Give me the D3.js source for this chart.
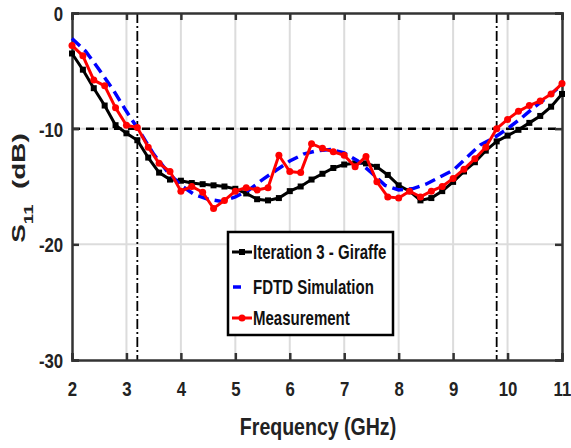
<!DOCTYPE html>
<html>
<head>
<meta charset="utf-8">
<script src="https://cdn.jsdelivr.net/npm/d3@7"></script>
<style>
  body { margin: 0; background: #fff; }
  svg text { font-family: "Liberation Sans", Arial, sans-serif; font-weight: bold; }
</style>
</head>
<body>
<div id="chart"></div>
<script>
// S11 vs frequency, three curves
const freqBlack = [2.0,2.2,2.4,2.6,2.8,3.0,3.2,3.4,3.6,3.8,4.0,4.2,4.4,4.6,4.8,5.0,5.2,5.4,5.6,5.8,6.0,6.2,6.4,6.6,6.8,7.0,7.2,7.4,7.6,7.8,8.0,8.2,8.4,8.6,8.8,9.0,9.2,9.4,9.6,9.8,10.0,10.2,10.4,10.6,10.8,11.0];
const s11Giraffe = [-3.5,-4.9,-6.5,-8.0,-9.7,-10.4,-11.0,-12.5,-13.8,-14.4,-14.5,-14.7,-14.8,-14.9,-15.0,-15.2,-15.6,-16.1,-16.2,-16.0,-15.4,-15.0,-14.4,-13.9,-13.4,-13.1,-13.0,-13.0,-13.3,-14.0,-14.9,-15.4,-16.2,-16.0,-15.4,-14.6,-13.7,-12.9,-11.9,-11.1,-10.6,-10.1,-9.5,-8.9,-8.1,-7.0];

const freqMeas = freqBlack;
const s11Measured = [-2.8,-3.7,-5.8,-6.3,-8.2,-9.7,-9.9,-11.6,-13.0,-13.7,-15.4,-15.0,-15.5,-16.9,-16.2,-15.4,-15.1,-15.3,-15.1,-12.3,-13.7,-13.8,-11.3,-11.7,-12.0,-12.3,-13.3,-12.4,-14.6,-15.9,-16.0,-15.4,-15.9,-15.4,-15.0,-14.3,-13.5,-12.6,-11.6,-10.0,-9.2,-8.5,-8.0,-7.6,-7.0,-6.1];

const freqSim = [2.0,2.25,2.5,2.75,3.0,3.25,3.5,3.75,4.0,4.25,4.5,4.75,5.0,5.25,5.5,5.75,6.0,6.25,6.5,6.75,7.0,7.25,7.5,7.75,8.0,8.25,8.5,8.75,9.0,9.25,9.5,9.75,10.0,10.25,10.5,10.75,11.0];
const s11Fdtd = [-2.2,-3.3,-4.9,-6.6,-8.5,-10.3,-12.2,-13.7,-14.9,-15.7,-16.1,-16.3,-15.9,-15.3,-14.4,-13.6,-12.8,-12.2,-11.9,-11.8,-12.1,-12.8,-13.8,-14.9,-15.3,-15.2,-14.8,-14.2,-13.6,-12.5,-11.4,-10.8,-10.0,-9.1,-8.1,-7.2,-6.2];

const xTicks = [2,3,4,5,6,7,8,9,10,11];
const yTicks = [0,-10,-20,-30];
const bandEdges = [3.2, 9.8];
const refLevel = -10;

const legendNames = ['Iteration 3 - Giraffe', 'FDTD Simulation', 'Measurement'];

const width = 571, height = 448;
const margin = { top: 13, right: 9, bottom: 88, left: 72 };
const narrow = 'scale(0.8,1)';   // condensed look, no narrow font installed

const svg = d3.select('#chart').append('svg')
    .attr('width', width)
    .attr('height', height);

const x = d3.scaleLinear().domain([2, 11]).range([margin.left, width - margin.right]);
const y = d3.scaleLinear().domain([-30, 0]).range([height - margin.bottom, margin.top]);

// grid
svg.append('g').selectAll('line')
    .data(xTicks.slice(1, -1))
    .enter().append('line')
    .attr('x1', d => x(d)).attr('x2', d => x(d))
    .attr('y1', y(0)).attr('y2', y(-30))
    .attr('stroke', '#dcdcdc').attr('stroke-width', 2);
svg.append('g').selectAll('line')
    .data(yTicks.slice(1, -1))
    .enter().append('line')
    .attr('x1', x(2)).attr('x2', x(11))
    .attr('y1', d => y(d)).attr('y2', d => y(d))
    .attr('stroke', '#dcdcdc').attr('stroke-width', 2);

// reference lines
svg.append('line')
    .attr('x1', x(2)).attr('x2', x(11))
    .attr('y1', y(refLevel)).attr('y2', y(refLevel))
    .attr('stroke', '#000').attr('stroke-width', 2.5)
    .attr('stroke-dasharray', '8,6');
svg.append('g').selectAll('line')
    .data(bandEdges)
    .enter().append('line')
    .attr('x1', d => x(d)).attr('x2', d => x(d))
    .attr('y1', y(0)).attr('y2', y(-30))
    .attr('stroke', '#000').attr('stroke-width', 1.8)
    .attr('stroke-dasharray', '10,3,2,3');

// axes with inward ticks
const xAxis = svg.append('g')
    .attr('transform', `translate(0,${y(-30)})`)
    .call(d3.axisBottom(x).tickValues(xTicks).tickSize(-7).tickPadding(21).tickFormat(d => String(d)));
const yAxis = svg.append('g')
    .attr('transform', `translate(${x(2)},0)`)
    .call(d3.axisLeft(y).tickValues(yTicks).tickSize(-7).tickPadding(11).tickFormat(d => String(d)));
svg.append('g')
    .attr('transform', `translate(0,${y(0)})`)
    .call(d3.axisTop(x).tickValues(xTicks).tickSize(-7).tickFormat(''));
svg.append('g')
    .attr('transform', `translate(${x(11)},0)`)
    .call(d3.axisRight(y).tickValues(yTicks).tickSize(-7).tickFormat(''));

svg.selectAll('.domain').attr('stroke', '#333').attr('stroke-width', 2.5);
svg.selectAll('.tick line').attr('stroke', '#333').attr('stroke-width', 2.5);
svg.selectAll('.tick text')
    .attr('font-size', 21)
    .attr('fill', '#222')
    .attr('transform', narrow)
    .style('font-family', null);
xAxis.attr('font-family', null).selectAll('.tick text').attr('dy', '0.71em');
yAxis.attr('font-family', null).selectAll('.tick text').attr('dy', '0.36em');

// curves
const line = d3.line().x(d => x(d[0])).y(d => y(d[1]));
const blackData = d3.zip(freqBlack, s11Giraffe);
const redData = d3.zip(freqMeas, s11Measured);
const blueData = d3.zip(freqSim, s11Fdtd);

svg.append('path').datum(blackData)
    .attr('d', line).attr('fill', 'none')
    .attr('stroke', '#000').attr('stroke-width', 3);
svg.append('g').selectAll('rect')
    .data(blackData).enter().append('rect')
    .attr('x', d => x(d[0]) - 3).attr('y', d => y(d[1]) - 3)
    .attr('width', 6).attr('height', 6).attr('fill', '#000');

svg.append('path').datum(blueData)
    .attr('d', line).attr('fill', 'none')
    .attr('stroke', '#0000ff').attr('stroke-width', 3.5)
    .attr('stroke-dasharray', '11,6');

svg.append('path').datum(redData)
    .attr('d', line).attr('fill', 'none')
    .attr('stroke', '#ff0000').attr('stroke-width', 3);
svg.append('g').selectAll('circle')
    .data(redData).enter().append('circle')
    .attr('cx', d => x(d[0])).attr('cy', d => y(d[1]))
    .attr('r', 3.5).attr('fill', '#ff0000');

// legend
const lg = svg.append('g').attr('transform', 'translate(228,232)');
lg.append('rect')
    .attr('width', 165).attr('height', 103)
    .attr('fill', '#fff').attr('stroke', '#000').attr('stroke-width', 2.5);
const rowY = [20, 55, 86];
lg.append('line').attr('x1', 4).attr('x2', 24).attr('y1', rowY[0]).attr('y2', rowY[0])
    .attr('stroke', '#000').attr('stroke-width', 3);
lg.append('rect').attr('x', 11).attr('y', rowY[0] - 3).attr('width', 6).attr('height', 6).attr('fill', '#000');
lg.append('line').attr('x1', 5).attr('x2', 13).attr('y1', rowY[1]).attr('y2', rowY[1])
    .attr('stroke', '#0000ff').attr('stroke-width', 3.5);
lg.append('line').attr('x1', 4).attr('x2', 24).attr('y1', rowY[2]).attr('y2', rowY[2])
    .attr('stroke', '#ff0000').attr('stroke-width', 3);
lg.append('circle').attr('cx', 14).attr('cy', rowY[2]).attr('r', 3.5).attr('fill', '#ff0000');
lg.selectAll('g.lab')
    .data(legendNames).enter().append('g')
    .attr('class', 'lab')
    .attr('transform', (d, i) => `translate(25,${rowY[i]})`)
    .append('text')
    .attr('transform', 'scale(0.77,1)')
    .attr('dy', '0.36em')
    .attr('font-size', 19.5)
    .attr('fill', '#111')
    .text(d => d);

// axis titles
svg.append('g')
    .attr('transform', 'translate(318,435)')
    .append('text')
    .attr('transform', 'scale(0.85,1)')
    .attr('text-anchor', 'middle')
    .attr('font-size', 23)
    .attr('fill', '#222')
    .text('Frequency (GHz)');

const yl = svg.append('text')
    .attr('transform', 'translate(25,188) rotate(-90) scale(1.55,1)')
    .attr('text-anchor', 'middle')
    .attr('font-size', 18)
    .attr('fill', '#222');
yl.append('tspan').text('S');
yl.append('tspan').attr('font-size', 12).attr('dy', 8).text('11');
yl.append('tspan').attr('dy', -8).text('\u00a0\u00a0(dB)');
</script>
</body>
</html>
